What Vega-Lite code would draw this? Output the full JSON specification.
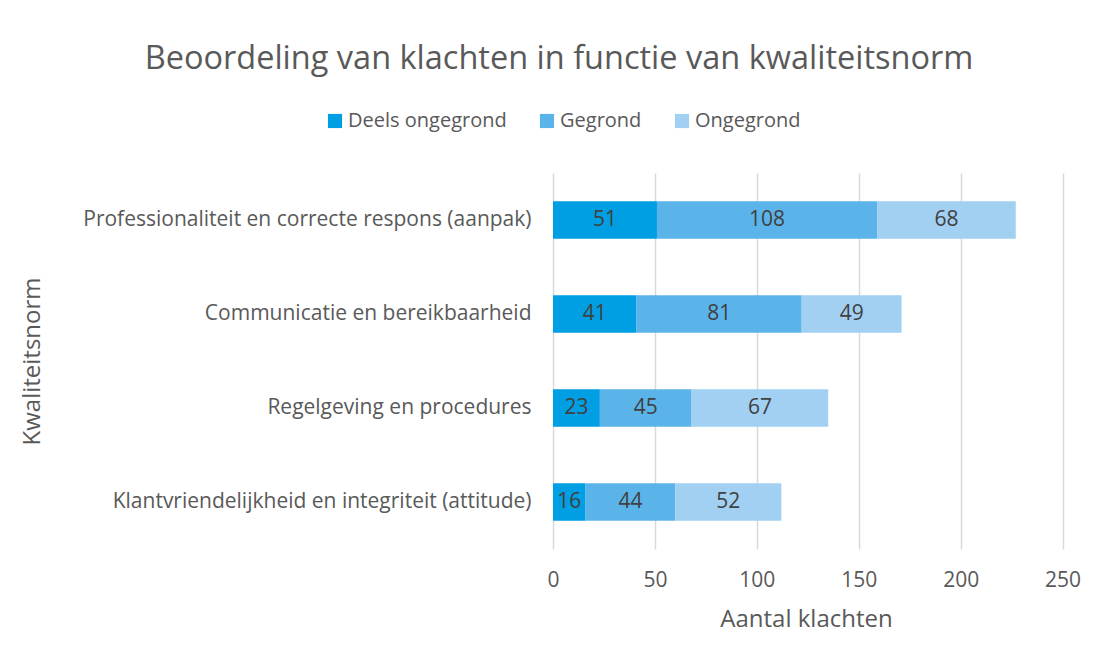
{
  "$schema": "https://vega.github.io/schema/vega-lite/v6.json",
  "autosize": {"type": "none"},
  "padding": {"left": 553, "top": 173, "right": 21, "bottom": 110},
  "width": 530,
  "height": 376,
  "background": "white",
  "config": {
    "font": "Open Sans",
    "view": {"stroke": null},
    "axis": {"labelColor": "#595959", "titleColor": "#595959", "titleFontWeight": "normal"}
  },
  "title": {
    "text": "Beoordeling van klachten in functie van kwaliteitsnorm",
    "fontSize": 32.5,
    "fontWeight": "normal",
    "color": "#595959",
    "font": "Open Sans",
    "frame": "group",
    "anchor": "middle",
    "dx": -259,
    "offset": 36
  },
  "data": {
    "values": [
      {"norm": "Professionaliteit en correcte respons (aanpak)", "beoordeling": "Deels ongegrond", "aantal": 51},
      {"norm": "Professionaliteit en correcte respons (aanpak)", "beoordeling": "Gegrond", "aantal": 108},
      {"norm": "Professionaliteit en correcte respons (aanpak)", "beoordeling": "Ongegrond", "aantal": 68},
      {"norm": "Communicatie en bereikbaarheid", "beoordeling": "Deels ongegrond", "aantal": 41},
      {"norm": "Communicatie en bereikbaarheid", "beoordeling": "Gegrond", "aantal": 81},
      {"norm": "Communicatie en bereikbaarheid", "beoordeling": "Ongegrond", "aantal": 49},
      {"norm": "Regelgeving en procedures", "beoordeling": "Deels ongegrond", "aantal": 23},
      {"norm": "Regelgeving en procedures", "beoordeling": "Gegrond", "aantal": 45},
      {"norm": "Regelgeving en procedures", "beoordeling": "Ongegrond", "aantal": 67},
      {"norm": "Klantvriendelijkheid en integriteit (attitude)", "beoordeling": "Deels ongegrond", "aantal": 16},
      {"norm": "Klantvriendelijkheid en integriteit (attitude)", "beoordeling": "Gegrond", "aantal": 44},
      {"norm": "Klantvriendelijkheid en integriteit (attitude)", "beoordeling": "Ongegrond", "aantal": 52}
    ]
  },
  "encoding": {
    "y": {
      "field": "norm",
      "type": "nominal",
      "sort": [
        "Professionaliteit en correcte respons (aanpak)",
        "Communicatie en bereikbaarheid",
        "Regelgeving en procedures",
        "Klantvriendelijkheid en integriteit (attitude)"
      ],
      "scale": {"paddingInner": 0.6, "paddingOuter": 0.3},
      "title": "Kwaliteitsnorm",
      "axis": {
        "domain": false,
        "ticks": false,
        "labelFontSize": 21,
        "labelPadding": 22,
        "labelLimit": 700,
        "titleFontSize": 24,
        "titleX": -521,
        "titleY": 188,
        "titleBaseline": "middle",
        "titleAlign": "center",
        "titleAngle": -90
      }
    }
  },
  "layer": [
    {
      "mark": {"type": "bar"},
      "encoding": {
        "x": {
          "field": "aantal",
          "type": "quantitative",
          "stack": "zero",
          "scale": {"domain": [0, 250]},
          "title": "Aantal klachten",
          "axis": {
            "values": [0, 50, 100, 150, 200, 250],
            "domain": false,
            "ticks": false,
            "grid": true,
            "gridColor": "#D9D9D9",
            "gridWidth": 1.5,
            "labelFlush": false,
            "labelFontSize": 21,
            "labelPadding": 20,
            "titleFontSize": 24,
            "titleX": 253,
            "titlePadding": 17
          }
        },
        "color": {
          "field": "beoordeling",
          "type": "nominal",
          "scale": {
            "domain": ["Deels ongegrond", "Gegrond", "Ongegrond"],
            "range": ["#009FE3", "#5BB4E9", "#A1D0F3"]
          },
          "legend": {
            "title": null,
            "orient": "none",
            "direction": "horizontal",
            "legendX": -228,
            "legendY": -62,
            "symbolType": "square",
            "symbolSize": 200,
            "symbolStrokeWidth": 0,
            "labelFontSize": 20,
            "labelColor": "#595959",
            "labelOffset": 3,
            "columnPadding": 30
          }
        },
        "order": {"field": "beoordeling", "sort": "ascending"}
      }
    },
    {
      "mark": {"type": "text", "fontSize": 21, "color": "#404040"},
      "encoding": {
        "x": {"field": "aantal", "type": "quantitative", "stack": "zero", "bandPosition": 0.5},
        "text": {"field": "aantal", "type": "quantitative"},
        "detail": {"field": "beoordeling"},
        "order": {"field": "beoordeling", "sort": "ascending"}
      }
    }
  ]
}
